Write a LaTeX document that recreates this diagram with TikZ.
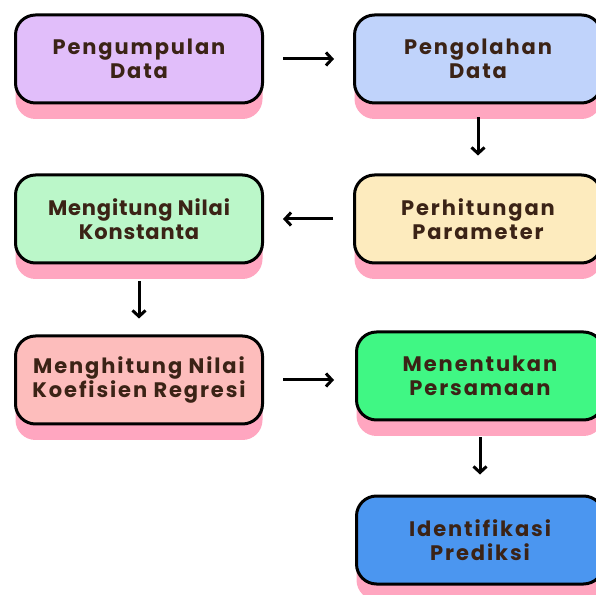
\documentclass[tikz,border=0pt]{standalone}
\usepackage{fontspec}
\setmainfont{Poppins}
\newfontfamily\wideface[LetterSpace=9]{Poppins}
\newfontfamily\tightface[LetterSpace=4]{Poppins}
\usetikzlibrary{shapes,arrows.meta,positioning,shadows}
\definecolor{txtbrown}{HTML}{3B2316}
\definecolor{shadowpink}{HTML}{FFA6C0}
\definecolor{lavender}{HTML}{E1BEFA}
\definecolor{paleblue}{HTML}{C0D3FB}
\definecolor{paleyellow}{HTML}{FDEBBE}
\definecolor{palegreen}{HTML}{BBF7C9}
\definecolor{palesalmon}{HTML}{FDBDBC}
\definecolor{brightgreen}{HTML}{40F784}
\definecolor{midblue}{HTML}{4B96F0}
\tikzstyle{block} = [rectangle, draw, line width=3pt, rounded corners=20pt,
    minimum width=247pt, minimum height=88pt, align=center, text=txtbrown,
    font=\wideface\bfseries\fontsize{21}{24.5}\selectfont,
    drop shadow={fill=shadowpink, opacity=1, shadow xshift=0pt, shadow yshift=-16pt}]
\tikzstyle{line} = [draw, line width=3pt, -{Straight Barb[length=6pt,width=13pt]},
    shorten <=19pt, shorten >=19pt]

\begin{document}
\begin{tikzpicture}[x=1pt, y=1pt]
  \useasboundingbox (0,0) rectangle (596,594);
  % Place nodes
  \node [block, fill=lavender] (collect) at (139,535) {Pengumpulan\\Data};
  \node [block, fill=paleblue, right=89pt of collect] (process) {Pengolahan\\Data};
  \node [block, fill=paleyellow, below=69pt of process] (param) {Perhitungan\\Parameter};
  \node [block, fill=palegreen, left=89pt of param,
         font=\tightface\bfseries\fontsize{21}{24.5}\selectfont] (const) {Mengitung Nilai\\Konstanta};
  \node [block, fill=palesalmon, below=70pt of const] (coef) {Menghitung Nilai\\Koefisien Regresi};
  \node [block, fill=brightgreen, right=91pt of coef, yshift=4pt] (eqn) {Menentukan\\Persamaan};
  \node [block, fill=midblue, below=73pt of eqn] (predict) {Identifikasi\\Prediksi};
  % Draw edges
  \path [line] (collect) -- (process);
  \path [line, shorten <=13pt, shorten >=18pt] (process) -- (param);
  \path [line, shorten <=20pt] (param) -- (const);
  \path [line, shorten <=17pt, shorten >=16pt] (const) -- (coef);
  \path [line, shorten >=21pt] (coef.east) -- (coef.east -| eqn.west);
  \path [line, shorten <=16pt, shorten >=20pt] (eqn) -- (predict);
\end{tikzpicture}
\end{document}
